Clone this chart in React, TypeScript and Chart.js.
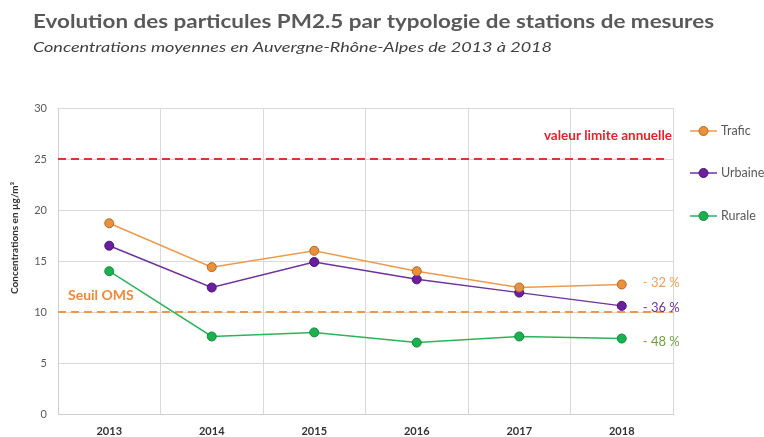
import React, { useEffect, useRef } from "react";
import { Chart, registerables } from "chart.js";

Chart.register(...registerables);

const years = ["2013", "2014", "2015", "2016", "2017", "2018"];
const trafic = [18.7, 14.4, 16.0, 14.0, 12.4, 12.7];
const urbaine = [16.5, 12.4, 14.9, 13.2, 11.9, 10.6];
const rurale = [14.0, 7.6, 8.0, 7.0, 7.6, 7.4];
const seriesNames = ["Trafic", "Urbaine", "Rurale"];
const changeLabels = ["- 32 %", "- 36 %", "- 48 %"];
const limitValue = 25;
const limitLabel = "valeur limite annuelle";
const omsValue = 10;
const omsLabel = "Seuil OMS";
const yTicks = { min: 0, max: 30, step: 5 };
const titleText = "Evolution des particules PM2.5 par typologie de stations de mesures";
const subtitleText = "Concentrations moyennes en Auvergne-Rhône-Alpes de 2013 à 2018";
const yTitle = "Concentrations en µg/m³";

const lineColors = ["#EE9A4D", "#7030A0", "#2DB35A"];
const markerColors = ["#E8913E", "#6A1FA0", "#1DB050"];
const markerBorders = ["#B8671E", "#4B1078", "#128A3A"];
const labelColors = ["#F0A05A", "#7030A0", "#6FA040"];

const FONT = "Lato, 'Open Sans', sans-serif";

function fitText(ctx: any, text: string, x: number, y: number, width: number) {
  const w = ctx.measureText(text).width;
  ctx.save();
  ctx.translate(x, y);
  ctx.scale(width / w, 1);
  ctx.fillText(text, 0, 0);
  ctx.restore();
}

const decorPlugin = {
  id: "decor",
  beforeDatasetsDraw(chart: any) {
    const { ctx, chartArea, scales } = chart;
    const y = scales.y;
    ctx.save();
    ctx.setLineDash([8, 5]);
    ctx.lineWidth = 2;
    ctx.strokeStyle = "#E0342E";
    let py = y.getPixelForValue(limitValue);
    ctx.beginPath();
    ctx.moveTo(chartArea.left, py);
    ctx.lineTo(chartArea.right - 8, py);
    ctx.stroke();
    ctx.strokeStyle = "#F0954A";
    py = y.getPixelForValue(omsValue);
    ctx.beginPath();
    ctx.moveTo(chartArea.left, py);
    ctx.lineTo(chartArea.right, py);
    ctx.stroke();
    ctx.restore();
  },
  afterDraw(chart: any) {
    const { ctx, chartArea, scales } = chart;
    const y = scales.y;
    const x = scales.x;
    ctx.save();
    ctx.textBaseline = "middle";
    ctx.textAlign = "left";
    ctx.fillStyle = "#595959";
    ctx.font = `bold 18px ${FONT}`;
    fitText(ctx, titleText, 33, 22, 681);
    ctx.fillStyle = "#404040";
    ctx.font = `italic 14px ${FONT}`;
    fitText(ctx, subtitleText, 33, 47, 519);

    // y axis title
    ctx.save();
    ctx.translate(15, 238);
    ctx.rotate(-Math.PI / 2);
    ctx.textAlign = "center";
    ctx.fillStyle = "#333333";
    ctx.font = `bold 10px ${FONT}`;
    ctx.fillText(yTitle, 0, 0);
    ctx.restore();

    // annotations
    ctx.font = `bold 13.5px ${FONT}`;
    ctx.fillStyle = "#E8212B";
    ctx.textAlign = "right";
    ctx.fillText(limitLabel, chartArea.right - 1, y.getPixelForValue(limitValue) - 23);
    ctx.fillStyle = "#EE8A3A";
    ctx.textAlign = "left";
    ctx.font = `bold 14px ${FONT}`;
    ctx.fillText(omsLabel, chartArea.left + 10, y.getPixelForValue(omsValue) - 17);

    // change labels
    ctx.font = `13px ${FONT}`;
    const lastIdx = years.length - 1;
    const lastX = x.getPixelForValue(lastIdx);
    const finals = [trafic[lastIdx], urbaine[lastIdx], rurale[lastIdx]];
    const offsets = [-2, 2, 3];
    finals.forEach((v, i) => {
      ctx.fillStyle = labelColors[i];
      ctx.fillText(changeLabels[i], lastX + 21, y.getPixelForValue(v) + offsets[i]);
    });

    // legend
    const legendY = [131, 173, 216];
    ctx.font = `12.5px ${FONT}`;
    seriesNames.forEach((name, i) => {
      const ly = legendY[i];
      ctx.strokeStyle = lineColors[i];
      ctx.lineWidth = 1.5;
      ctx.beginPath();
      ctx.moveTo(690, ly);
      ctx.lineTo(717, ly);
      ctx.stroke();
      ctx.beginPath();
      ctx.arc(703.5, ly, 4.5, 0, Math.PI * 2);
      ctx.fillStyle = markerColors[i];
      ctx.fill();
      ctx.strokeStyle = markerBorders[i];
      ctx.lineWidth = 1;
      ctx.stroke();
      ctx.fillStyle = "#595959";
      ctx.fillText(name, 721, ly);
    });
    ctx.restore();
  },
};

export default function App() {
  const ref = useRef<HTMLCanvasElement>(null);
  useEffect(() => {
    if (!ref.current) return;
    const data = [trafic, urbaine, rurale];
    const chart = new Chart(ref.current, {
      type: "line",
      data: {
        labels: years,
        datasets: seriesNames.map((name, i) => ({
          label: name,
          data: data[i],
          borderColor: lineColors[i],
          borderWidth: 1.5,
          backgroundColor: markerColors[i],
          pointBackgroundColor: markerColors[i],
          pointBorderColor: markerBorders[i],
          pointBorderWidth: 1,
          pointRadius: 4.5,
          tension: 0,
        })),
      },
      options: {
        animation: false,
        responsive: false,
        layout: { padding: { top: 108, right: 91, left: 0, bottom: 0 } },
        plugins: {
          legend: { display: false },
          title: { display: false },
          tooltip: { enabled: false },
        },
        scales: {
          x: {
            offset: true,
            grid: { offset: true, color: "#D9D9D9", drawTicks: false },
            border: { color: "#D0D0D0" },
            ticks: {
              padding: 11,
              color: "#333333",
              font: { family: FONT, size: 11, weight: "bold" },
            },
            afterFit(scale: any) {
              scale.height = 23;
            },
          },
          y: {
            min: yTicks.min,
            max: yTicks.max,
            ticks: {
              stepSize: yTicks.step,
              padding: 11,
              color: "#595959",
              font: { family: FONT, size: 11 },
            },
            grid: { color: "#D9D9D9", drawTicks: false },
            border: { color: "#D0D0D0" },
            afterFit(scale: any) {
              scale.width = 58;
            },
          },
        },
      },
      plugins: [decorPlugin],
    } as any);
    return () => chart.destroy();
  }, []);
  return (
    <div style={{ position: "fixed", left: 0, top: 0, width: 764, height: 437, background: "#fff" }}>
      <canvas ref={ref} width={764} height={437} style={{ width: 764, height: 437 }} />
    </div>
  );
}
